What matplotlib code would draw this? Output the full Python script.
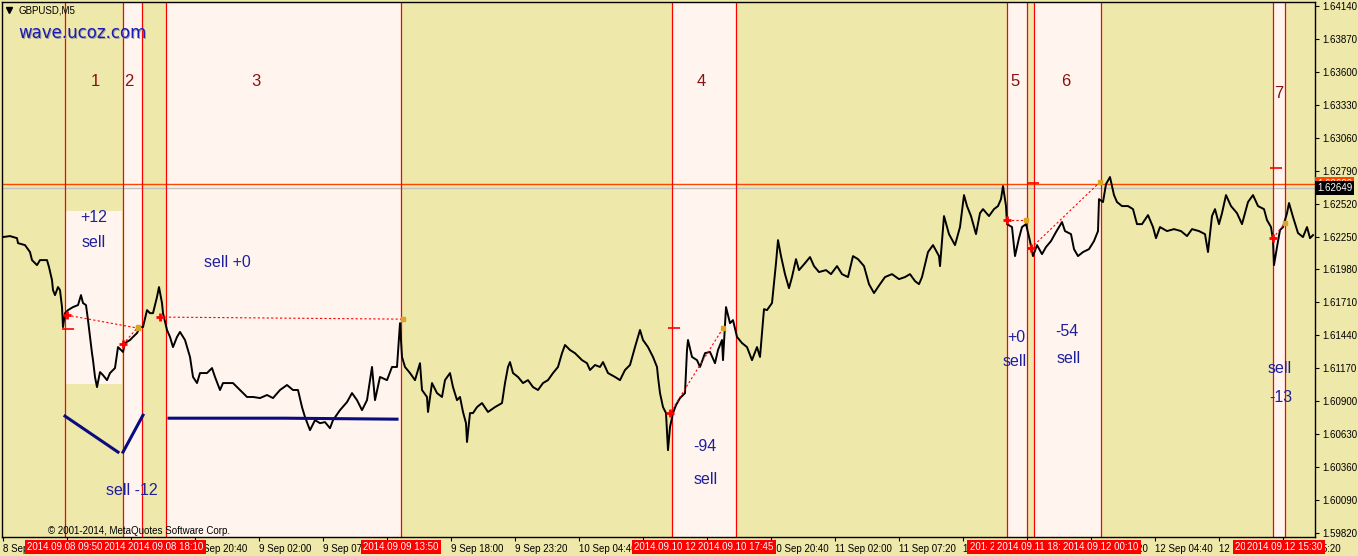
import matplotlib
matplotlib.use('Agg')
import matplotlib.pyplot as plt
import matplotlib.transforms as mtransforms

# GBPUSD M5, x = bar number on the chart, y = close price
bar = [3, 10, 17, 18, 25, 30, 32, 37, 40, 47, 49, 52, 53, 55, 58, 60, 62, 63, 65, 68,
       73, 78, 81, 83, 86, 88, 92, 93, 95, 97, 100, 103, 107, 110, 115, 118, 123, 125, 130, 133,
       137, 140, 143, 147, 150, 153, 157, 159, 162, 163, 167, 170, 173, 177, 180, 185, 190, 193, 197, 200,
       207, 212, 215, 220, 223, 233, 240, 247, 253, 260, 267, 273, 280, 287, 293, 298, 302, 305, 310, 315,
       320, 325, 330, 333, 340, 347, 352, 357, 362, 367, 372, 375, 380, 387, 392, 397, 400, 402, 405, 410,
       415, 420, 422, 427, 428, 432, 437, 442, 445, 450, 453, 457, 460, 463, 466, 467, 470, 473, 477, 482,
       488, 495, 502, 505, 508, 510, 513, 518, 523, 528, 533, 538, 543, 548, 553, 558, 562, 565, 570, 575,
       582, 587, 590, 595, 600, 603, 608, 615, 620, 625, 630, 635, 640, 643, 648, 653, 657, 658, 660, 663,
       666, 668, 670, 673, 676, 680, 685, 687, 688, 692, 697, 700, 705, 710, 715, 718, 722, 723, 726, 730,
       733, 737, 742, 747, 752, 757, 760, 764, 767, 772, 776, 778, 781, 785, 789, 792, 796, 799, 805, 810,
       814, 819, 826, 831, 837, 842, 848, 853, 858, 864, 869, 874, 880, 885, 892, 899, 905, 910, 915, 919,
       922, 928, 933, 939, 940, 944, 949, 955, 960, 964, 967, 971, 976, 980, 983, 989, 994, 998, 1001, 1003,
       1006, 1007, 1012, 1015, 1019, 1022, 1026, 1030, 1033, 1037, 1042, 1046, 1051, 1056, 1062, 1065, 1071, 1074, 1078, 1083,
       1089, 1094, 1098, 1099, 1103, 1106, 1110, 1114, 1117, 1122, 1128, 1133, 1137, 1142, 1148, 1153, 1156, 1160, 1167, 1174,
       1181, 1187, 1192, 1199, 1205, 1208, 1212, 1215, 1219, 1222, 1226, 1231, 1237, 1242, 1248, 1253, 1258, 1264, 1267, 1271,
       1273, 1274, 1277, 1280, 1283, 1287, 1289, 1293, 1298, 1303, 1307, 1310, 1313]
close = [1.62246, 1.62254, 1.62237, 1.62196, 1.62180, 1.62123, 1.62057, 1.62016, 1.62057, 1.62057,
         1.62000, 1.61893, 1.61811, 1.61770, 1.61836, 1.61811, 1.61672, 1.61508, 1.61622, 1.61647,
         1.61672, 1.61688, 1.61770, 1.61705, 1.61688, 1.61565, 1.61294, 1.61237, 1.61099, 1.61016,
         1.61139, 1.61114, 1.61073, 1.61131, 1.61172, 1.61344, 1.61304, 1.61377, 1.61402, 1.61427,
         1.61459, 1.61508, 1.61508, 1.61647, 1.61622, 1.61622, 1.61755, 1.61836, 1.61705, 1.61622,
         1.61484, 1.61427, 1.61344, 1.61427, 1.61468, 1.61402, 1.61263, 1.61099, 1.61049, 1.61131,
         1.61131, 1.61172, 1.61099, 1.60992, 1.61049, 1.61049, 1.60992, 1.60935, 1.60935, 1.60926,
         1.60951, 1.60926, 1.60992, 1.61033, 1.60992, 1.60992, 1.60852, 1.60770, 1.60663, 1.60745,
         1.60720, 1.60729, 1.60679, 1.60745, 1.60827, 1.60893, 1.60967, 1.60909, 1.60827, 1.60909,
         1.61181, 1.60909, 1.61099, 1.61073, 1.61181, 1.61181, 1.61540, 1.61263, 1.61181, 1.61131,
         1.61073, 1.61212, 1.60992, 1.60935, 1.60812, 1.61049, 1.60967, 1.60935, 1.61073, 1.61131,
         1.61016, 1.60909, 1.60935, 1.60812, 1.60720, 1.60566, 1.60803, 1.60803, 1.60852, 1.60885,
         1.60812, 1.60852, 1.60885, 1.61049, 1.61181, 1.61221, 1.61131, 1.61099, 1.61049, 1.61073,
         1.61016, 1.60992, 1.61049, 1.61073, 1.61131, 1.61181, 1.61294, 1.61361, 1.61320, 1.61294,
         1.61237, 1.61212, 1.61156, 1.61197, 1.61181, 1.61221, 1.61131, 1.61099, 1.61073, 1.61156,
         1.61197, 1.61344, 1.61484, 1.61402, 1.61344, 1.61263, 1.61181, 1.61099, 1.60967, 1.60852,
         1.60803, 1.60499, 1.60688, 1.60803, 1.60868, 1.60926, 1.60967, 1.61320, 1.61402, 1.61263,
         1.61237, 1.61181, 1.61294, 1.61304, 1.61212, 1.61320, 1.61402, 1.61237, 1.61672, 1.61540,
         1.61565, 1.61427, 1.61377, 1.61344, 1.61237, 1.61344, 1.61263, 1.61655, 1.61647, 1.61705,
         1.62032, 1.62221, 1.62090, 1.61942, 1.61827, 1.61918, 1.62065, 1.61975, 1.62032, 1.62082,
         1.62008, 1.61959, 1.61975, 1.61942, 1.62008, 1.61942, 1.61918, 1.62090, 1.62065, 1.62008,
         1.61860, 1.61787, 1.61860, 1.61918, 1.61942, 1.61901, 1.61918, 1.61942, 1.61885, 1.61860,
         1.61918, 1.62123, 1.62180, 1.62090, 1.62008, 1.62418, 1.62270, 1.62180, 1.62328, 1.62590,
         1.62500, 1.62418, 1.62270, 1.62442, 1.62475, 1.62418, 1.62475, 1.62500, 1.62557, 1.62664,
         1.62500, 1.62352, 1.62328, 1.62090, 1.62237, 1.62328, 1.62352, 1.62213, 1.62090, 1.62180,
         1.62106, 1.62164, 1.62213, 1.62287, 1.62369, 1.62295, 1.62270, 1.62147, 1.62090, 1.62123,
         1.62147, 1.62213, 1.62295, 1.62557, 1.62533, 1.62680, 1.62738, 1.62590, 1.62533, 1.62500,
         1.62500, 1.62475, 1.62352, 1.62352, 1.62426, 1.62328, 1.62237, 1.62328, 1.62295, 1.62311,
         1.62295, 1.62254, 1.62311, 1.62295, 1.62270, 1.62123, 1.62418, 1.62475, 1.62352, 1.62442,
         1.62590, 1.62500, 1.62442, 1.62352, 1.62533, 1.62590, 1.62500, 1.62475, 1.62385, 1.62328,
         1.62221, 1.62016, 1.62164, 1.62303, 1.62328, 1.62442, 1.62525, 1.62411, 1.62279, 1.62246,
         1.62328, 1.62237, 1.62262]

# vertical lines and their time labels (label_layer: which box lies on top)
vline_bar = [65, 123, 142, 166, 401, 672, 736, 1007, 1027, 1034, 1101, 1273, 1285]
vline_label = ['2014.09.08 09:50', '2014.09.08 14:40', '2014.09.08 16:15', '2014.09.08 18:10',
               '2014.09.09 13:50', '2014.09.10 12:20', '2014.09.10 17:45', '2014.09.11 16:20',
               '2014.09.11 17:55', '2014.09.11 18:30', '2014.09.12 00:10', '2014.09.12 14:30',
               '2014.09.12 15:30']
label_layer = [3, 1, 2, 4, 5, 6, 7, 8, 9, 10, 11, 12, 13]
zone_start = [123, 166, 672, 1007, 1034, 1273]
zone_end = [142, 401, 736, 1027, 1101, 1285]
box1 = (65, 122, 1.61040, 1.62459)

# zone numbers
num_bar = [95, 129, 256, 701, 1015, 1066, 1279]
num_price = [1.63525, 1.63525, 1.63525, 1.63525, 1.63525, 1.63525, 1.63426]
num_text = ['1', '2', '3', '4', '5', '6', '7']

# result notes
note_bar = [94, 94, 227, 132, 705, 706, 1016, 1015, 1067, 1069, 1280, 1281]
note_price = [1.62410, 1.62205, 1.62041, 1.60171, 1.60532, 1.60261, 1.61425, 1.61229,
              1.61475, 1.61253, 1.61171, 1.60934]
note_text = ['+12', 'sell', 'sell +0', 'sell -12', '-94', 'sell', '+0', 'sell', '-54', 'sell',
             'sell', '-13']

# trades (entry -> exit)
trade_bar = [(67, 138), (123, 138), (160, 403), (670, 723), (1007, 1026), (1031, 1100), (1273, 1285)]
trade_price = [(1.61606, 1.61499), (1.61368, 1.61508), (1.61590, 1.61573), (1.60803, 1.61499),
               (1.62385, 1.62385), (1.62156, 1.62697), (1.62237, 1.62360)]
level_bar = [68, 674, 1033, 1276]
level_price = [1.61491, 1.61499, 1.62689, 1.62812]

# navy trend drawings
trend_bar = [[65, 118], [123, 143], [169, 285, 397]]
trend_price = [[1.60778, 1.60483], [1.60483, 1.60786], [1.60761, 1.60761, 1.60753]]

red_level = 1.62680
bid = 1.62649

yticks = [1.59820 + 0.0027 * i for i in range(17)]
xtick_bar = [3 + 64 * i for i in range(21)]
xtick_label = ['8 Sep 2014', '8 Sep 10:00', '8 Sep 15:20', '8 Sep 20:40', '9 Sep 02:00', '9 Sep 07:20',
               '9 Sep 12:40', '9 Sep 18:00', '9 Sep 23:20', '10 Sep 04:40', '10 Sep 10:00',
               '10 Sep 15:20', '10 Sep 20:40', '11 Sep 02:00', '11 Sep 07:20', '11 Sep 12:40',
               '11 Sep 18:00', '11 Sep 23:20', '12 Sep 04:40', '12 Sep 10:00', '12 Sep 15:20']

KHAKI = '#eee8aa'
PINK = '#fff5ee'
BLUE = '#1f1f9e'

plt.rcParams['font.family'] = ['Liberation Sans', 'DejaVu Sans']

fig = plt.figure(figsize=(13.58, 5.56), dpi=100, facecolor=KHAKI)
ax = fig.add_axes([2 / 1358, 19 / 556, 1313 / 1358, 535 / 556])
ax.set_facecolor(KHAKI)
ax.set_xlim(2, 1315)
ax.set_ylim(1.59787, 1.64173)

# zones
for s, e in zip(zone_start, zone_end):
    ax.axvspan(s, e, color=PINK, zorder=0.5, lw=0)
ax.fill_between([box1[0], box1[1]], box1[2], box1[3], color=PINK, zorder=0.5, lw=0)

# horizontal lines
ax.axhline(bid, color='#c0c0c0', lw=1, zorder=1)
ax.axhline(red_level, color='#ff4500', lw=1, zorder=1)

# vertical lines
for b in vline_bar:
    ax.axvline(b, color='#ff0000', lw=0.9, zorder=1.2)

# price
ax.plot(bar, close, color='black', lw=1.4, zorder=2)

# trend drawings
for tb, tp in zip(trend_bar, trend_price):
    ax.plot(tb, tp, color='#0b0b80', lw=2.2, zorder=2.2)

# trades
for tb, tp in zip(trade_bar, trade_price):
    ax.plot(tb, tp, color='#ff0000', lw=0.8, ls=(0, (2, 2)), zorder=2.3)
    ax.plot(tb[0], tp[0], marker='+', color='#ff0000', ms=6, mew=2, zorder=2.4)
    ax.plot(tb[1], tp[1], marker='s', color='#daa520', ms=2.5, zorder=2.4)
ax.plot(level_bar, level_price, ls='none', marker='_', color='#ff0000', ms=8, mew=1.2, zorder=2.4)

# texts
for b, p, t in zip(num_bar, num_price, num_text):
    ax.text(b, p, t, color='#8b1010', fontsize=12, ha='center', va='center', zorder=3)
for b, p, t in zip(note_bar, note_price, note_text):
    ax.text(b, p, t, color=BLUE, fontsize=11.5, ha='center', va='center', zorder=3)

ax.text(0.0135, 0.940, 'wave.ucoz.com', transform=ax.transAxes, fontsize=12,
        family='DejaVu Sans', color='#a0a0a0', va='center', zorder=3)
ax.text(0.0122, 0.942, 'wave.ucoz.com', transform=ax.transAxes, fontsize=12,
        family='DejaVu Sans', color='#1a1ab4', va='center', zorder=3.1)
ax.text(0.0122, 0.985, 'GBPUSD,M5', transform=ax.transAxes, fontsize=7, va='center')
ax.plot([0.0055], [0.985], marker='v', color='black', ms=4, transform=ax.transAxes, clip_on=False)
ax.text(0.035, 0.011, '\u00a9 2001-2014, MetaQuotes Software Corp.', transform=ax.transAxes,
        fontsize=7, va='center')

# axes
ax.yaxis.tick_right()
ax.set_yticks(yticks)
ax.set_yticklabels(['%.5f' % v for v in yticks])
ax.set_xticks(xtick_bar)
ax.set_xticklabels(xtick_label, ha='left')
ax.tick_params(axis='both', direction='out', length=3, width=0.8, labelsize=7, colors='black', pad=2)
for sp in ax.spines.values():
    sp.set_color('black')
    sp.set_linewidth(1)

# time labels of vertical lines
trans = mtransforms.blended_transform_factory(ax.transData, ax.transAxes)
for b, lab, layer in zip(vline_bar, vline_label, label_layer):
    ax.text(b, -0.0187, lab, transform=trans, color='white', fontsize=7, ha='center', va='center',
            clip_on=False, zorder=5 + 0.01 * layer,
            bbox=dict(boxstyle='square,pad=0.25', fc='#ff0000', ec='none'))

# price labels on the right
ax.text(1.0015, red_level, '%.5f' % red_level, transform=ax.get_yaxis_transform(), color='white',
        fontsize=7, va='center', ha='left', clip_on=False, zorder=5,
        bbox=dict(boxstyle='square,pad=0.2', fc='#ff4500', ec='none'))
ax.text(1.0015, bid, '%.5f' % bid, transform=ax.get_yaxis_transform(), color='white',
        fontsize=7, va='center', ha='left', clip_on=False, zorder=5.1,
        bbox=dict(boxstyle='square,pad=0.2', fc='black', ec='none'))

fig.savefig('out.png', dpi=100, facecolor=KHAKI)
